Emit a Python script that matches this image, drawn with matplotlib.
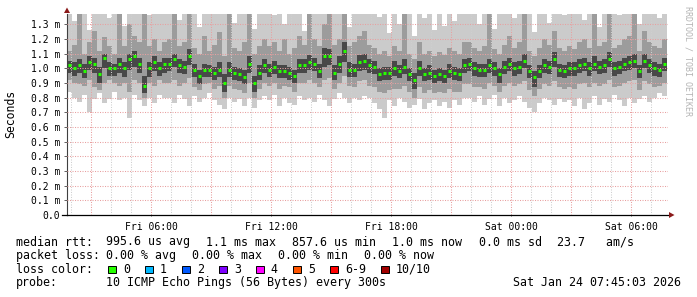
import numpy as np
import matplotlib
matplotlib.use("Agg")
import matplotlib.pyplot as plt
from matplotlib.patches import Rectangle, Polygon

# ---------------- data ----------------
start_hour = 1.8      # Fri 01:48 (hours since Fri 00:00)
step_hours = 0.25     # one sample every 15 min

median = [1.02,1.00,1.02,0.98,1.045,1.03,0.96,1.07,1.00,1.00,1.03,1.00,1.06,1.08,1.03,0.88,1.00,1.04,1.00,1.03,
          1.03,1.065,1.02,1.01,1.08,0.99,0.95,0.985,0.985,0.97,0.99,0.90,0.99,0.97,0.96,0.94,1.03,0.90,0.97,1.02,
          0.99,1.01,0.98,0.98,0.97,0.95,1.02,1.02,1.04,1.03,0.98,1.08,1.08,0.97,1.03,1.12,0.99,0.99,1.04,1.05,
          1.02,1.01,0.96,0.97,0.97,1.00,0.98,1.01,0.96,0.92,1.00,0.96,0.97,0.95,0.96,0.95,0.98,0.97,0.96,1.02,
          1.03,1.00,0.99,0.99,1.02,1.00,0.96,1.01,1.03,1.00,1.01,1.05,0.98,0.94,0.98,1.02,1.01,1.06,0.99,0.98,
          1.00,1.00,1.02,1.03,1.00,1.03,1.01,1.02,1.06,1.00,1.01,1.03,1.04,1.05,0.98,1.05,1.02,1.00,0.99,1.03]

smoke_max = [1.40,1.32,1.40,1.40,1.26,1.40,1.40,1.40,1.34,1.40,1.40,1.29,1.40,1.40,1.40,1.40,1.36,1.40,1.40,1.40,
             1.40,1.40,1.33,1.40,1.40,1.40,1.28,1.40,1.40,1.37,1.40,1.40,1.40,1.31,1.40,1.40,1.40,1.27,1.40,1.40,
             1.40,1.36,1.40,1.30,1.40,1.40,1.40,1.25,1.40,1.40,1.40,1.40,1.33,1.40,1.40,1.40,1.28,1.40,1.40,1.40,
             1.40,1.40,1.35,1.40,1.24,1.40,1.30,1.40,1.40,1.22,1.40,1.34,1.40,1.26,1.40,1.29,1.40,1.32,1.40,1.40,
             1.40,1.40,1.30,1.40,1.40,1.27,1.40,1.40,1.40,1.34,1.40,1.40,1.40,1.25,1.40,1.40,1.31,1.40,1.40,1.36,
             1.40,1.40,1.40,1.33,1.40,1.40,1.28,1.40,1.40,1.40,1.36,1.40,1.40,1.40,1.30,1.40,1.40,1.40,1.34,1.40]
smoke_min = [0.84,0.80,0.77,0.82,0.70,0.79,0.83,0.76,0.79,0.84,0.78,0.80,0.66,0.82,0.78,0.74,0.80,0.76,0.82,0.80,
             0.80,0.76,0.82,0.79,0.74,0.81,0.77,0.80,0.83,0.78,0.75,0.72,0.80,0.77,0.79,0.74,0.80,0.73,0.78,0.81,
             0.78,0.82,0.74,0.80,0.76,0.75,0.81,0.78,0.80,0.77,0.82,0.78,0.74,0.79,0.83,0.80,0.76,0.80,0.78,0.81,
             0.80,0.76,0.72,0.66,0.78,0.74,0.80,0.77,0.73,0.75,0.79,0.72,0.76,0.78,0.74,0.77,0.73,0.78,0.75,0.80,
             0.80,0.77,0.81,0.75,0.79,0.82,0.74,0.80,0.76,0.78,0.81,0.77,0.73,0.70,0.76,0.80,0.78,0.75,0.79,0.77,
             0.78,0.74,0.80,0.72,0.76,0.81,0.75,0.79,0.77,0.82,0.78,0.74,0.80,0.76,0.79,0.81,0.77,0.80,0.83,0.81]
smoke_hi2 = [1.12,1.16,1.40,1.10,1.18,1.25,1.12,1.21,1.15,1.10,1.40,1.15,1.30,1.22,1.18,1.40,1.15,1.20,1.12,1.18,
             1.20,1.40,1.15,1.18,1.40,1.14,1.10,1.22,1.12,1.16,1.25,1.08,1.40,1.14,1.12,1.18,1.40,1.10,1.15,1.20,
             1.15,1.18,1.12,1.20,1.10,1.14,1.22,1.16,1.40,1.20,1.15,1.30,1.40,1.16,1.20,1.40,1.15,1.18,1.22,1.25,
             1.16,1.14,1.10,1.12,1.08,1.15,1.12,1.40,1.10,1.06,1.18,1.10,1.12,1.08,1.11,1.09,1.14,1.12,1.10,1.18,
             1.18,1.14,1.12,1.15,1.40,1.13,1.10,1.16,1.22,1.14,1.18,1.40,1.12,1.08,1.14,1.20,1.16,1.25,1.14,1.12,
             1.15,1.13,1.18,1.20,1.14,1.40,1.15,1.18,1.40,1.14,1.16,1.20,1.22,1.40,1.12,1.25,1.18,1.15,1.14,1.20]
smoke_lo2 = [0.92,0.90,0.89,0.88,0.92,0.87,0.85,0.90,0.92,0.90,0.88,0.90,0.84,0.92,0.90,0.80,0.90,0.88,0.92,0.90,
             0.90,0.92,0.88,0.90,0.93,0.87,0.85,0.89,0.90,0.86,0.88,0.80,0.88,0.86,0.85,0.83,0.90,0.80,0.86,0.90,
             0.88,0.90,0.86,0.88,0.87,0.84,0.90,0.90,0.92,0.90,0.87,0.92,0.93,0.86,0.90,0.95,0.88,0.87,0.91,0.92,
             0.88,0.87,0.84,0.83,0.85,0.86,0.86,0.88,0.84,0.80,0.87,0.83,0.85,0.83,0.84,0.83,0.86,0.84,0.84,0.89,
             0.89,0.87,0.87,0.86,0.90,0.88,0.84,0.88,0.90,0.88,0.89,0.91,0.85,0.81,0.86,0.89,0.88,0.91,0.87,0.86,
             0.87,0.86,0.89,0.90,0.87,0.90,0.88,0.89,0.92,0.87,0.88,0.90,0.91,0.92,0.85,0.91,0.89,0.87,0.88,0.90]
smoke_hi3 = [1.05,1.04,1.06,1.03,1.08,1.07,1.01,1.10,1.04,1.03,1.07,1.04,1.10,1.12,1.07,0.95,1.04,1.08,1.04,1.07,
             1.07,1.10,1.06,1.05,1.13,1.03,0.99,1.03,1.02,1.01,1.04,0.96,1.04,1.01,1.00,0.99,1.08,0.95,1.02,1.06,
             1.03,1.05,1.02,1.02,1.01,0.99,1.06,1.06,1.09,1.07,1.03,1.14,1.13,1.02,1.08,1.18,1.04,1.03,1.09,1.10,
             1.06,1.05,1.00,1.01,1.01,1.05,1.02,1.06,1.00,0.97,1.05,1.00,1.02,0.99,1.00,0.99,1.03,1.01,1.00,1.06,
             1.07,1.04,1.03,1.03,1.06,1.04,1.00,1.05,1.07,1.04,1.05,1.10,1.02,0.98,1.02,1.06,1.05,1.11,1.03,1.02,
             1.04,1.04,1.06,1.07,1.04,1.08,1.05,1.06,1.11,1.04,1.05,1.07,1.08,1.10,1.02,1.10,1.06,1.04,1.03,1.07]
smoke_lo3 = [0.97,0.95,0.97,0.93,0.99,0.97,0.90,1.00,0.95,0.95,0.97,0.94,0.99,1.01,0.97,0.83,0.94,0.98,0.95,0.97,
             0.98,1.01,0.97,0.96,1.02,0.94,0.89,0.94,0.94,0.92,0.94,0.84,0.94,0.92,0.91,0.89,0.97,0.84,0.92,0.97,
             0.94,0.96,0.93,0.93,0.92,0.90,0.97,0.97,0.99,0.98,0.93,1.01,1.02,0.92,0.97,1.04,0.94,0.94,0.98,0.99,
             0.97,0.96,0.91,0.92,0.92,0.95,0.93,0.96,0.91,0.86,0.95,0.91,0.92,0.90,0.91,0.90,0.93,0.92,0.91,0.97,
             0.98,0.95,0.94,0.94,0.97,0.95,0.90,0.96,0.98,0.95,0.96,1.00,0.93,0.87,0.93,0.97,0.96,1.01,0.94,0.93,
             0.95,0.95,0.97,0.98,0.95,0.98,0.96,0.97,1.01,0.95,0.96,0.98,0.99,1.00,0.93,1.00,0.97,0.95,0.94,0.98]

x_tick_hours = [6, 12, 18, 24, 30]
x_tick_labels = ["Fri 06:00", "Fri 12:00", "Fri 18:00", "Sat 00:00", "Sat 06:00"]
y_ticks = [0.0, 0.1, 0.2, 0.3, 0.4, 0.5, 0.6, 0.7, 0.8, 0.9, 1.0, 1.1, 1.2, 1.3]

loss_labels = ["0", "1", "2", "3", "4", "5", "6-9", "10/10"]
loss_colors = ["#26ff00", "#00b8ff", "#0059ff", "#7e00ff", "#ff00ff", "#ff5500", "#ff0000", "#a10000"]

rtt_pieces = ["995.6 us avg", "1.1 ms max", "857.6 us min", "1.0 ms now", "0.0 ms sd", "23.7   am/s"]
loss_pieces = ["0.00 % avg", "0.00 % max", "0.00 % min", "0.00 % now"]
probe_text = "10 ICMP Echo Pings (56 Bytes) every 300s"
stamp_text = "Sat Jan 24 07:45:03 2026"

# ---------------- figure ----------------
W, H = 697, 297
MONO = "DejaVu Sans Mono"
fig = plt.figure(figsize=(W / 100, H / 100), dpi=100)
fig.patch.set_facecolor("white")

L, R, T, B = 67, 668, 14, 215
ax = fig.add_axes([L / W, (H - B) / H, (R - L) / W, (B - T) / H])
ax.set_facecolor("white")

t = start_hour + step_hours * np.arange(len(median))
med = np.array(median)
mx, mn = np.array(smoke_max), np.array(smoke_min)
h2, l2 = np.array(smoke_hi2), np.array(smoke_lo2)
h3, l3 = np.array(smoke_hi3), np.array(smoke_lo3)

ax.bar(t, mx - mn, bottom=mn, width=step_hours, align="edge", color="#cbcbcb", linewidth=0, zorder=1)
ax.bar(t, h2 - l2, bottom=l2, width=step_hours, align="edge", color="#9c9c9c", linewidth=0, zorder=1.1)
ax.bar(t, h3 - l3, bottom=l3, width=step_hours, align="edge", color="#484848", linewidth=0, zorder=1.2)
ax.hlines(med, t + 0.03, t + 0.22, colors=loss_colors[0], linewidth=2.2, zorder=6, capstyle="butt")

x0 = start_hour
x1 = start_hour + (R - L) / 20.0
ax.set_xlim(x0, x1)
ax.set_ylim(0, (B - T) / 146.8)

# grid
dot = (0, (1, 1.4))
for v in y_ticks[1:]:
    ax.axhline(v, color="#e8a0a0", lw=0.75, ls=dot, zorder=3)
for hr in range(2, 32):
    if hr % 3 == 0:
        ax.axvline(hr, color="#e8a0a0", lw=0.75, ls=dot, zorder=3)
    else:
        ax.axvline(hr, color="#cfcfcf", lw=0.75, ls=dot, zorder=3)

ax.set_yticks(y_ticks)
ax.set_yticklabels([("%.1f m" % v) if v > 0 else "0.0" for v in y_ticks], fontfamily=MONO, fontsize=7)
ax.set_xticks(x_tick_hours)
ax.set_xticklabels(x_tick_labels, fontfamily=MONO, fontsize=7)
ax.tick_params(axis="y", length=2, width=0.7, color="#606060", pad=3)
ax.tick_params(axis="x", length=2, width=0.7, color="#606060", pad=4, direction="inout")
for s in ["top", "right"]:
    ax.spines[s].set_visible(False)
ax.spines["left"].set_color("#404040")
ax.spines["left"].set_linewidth(0.8)
ax.spines["bottom"].set_color("#000000")
ax.spines["bottom"].set_linewidth(0.9)


def fx(px):
    return px / W


def fy(py):
    return 1 - py / H


# arrows
arrow_col = "#8b1a1a"
fig.patches.append(Polygon([[fx(64), fy(13)], [fx(70), fy(13)], [fx(67), fy(7.5)]],
                           closed=True, transform=fig.transFigure, color=arrow_col, lw=0))
fig.patches.append(Polygon([[fx(669), fy(212)], [fx(669), fy(218)], [fx(674.5), fy(215)]],
                           closed=True, transform=fig.transFigure, color=arrow_col, lw=0))
fig.add_artist(plt.Line2D([fx(62), fx(67)], [fy(215), fy(215)], color="black", lw=0.9, transform=fig.transFigure))

# axis title and watermark
fig.text(fx(10.5), fy(114), "Seconds", rotation=90, ha="center", va="center", fontfamily=MONO, fontsize=8.3)
fig.text(fx(688), fy(6), "RRDTOOL / TOBI OETIKER", rotation=270, ha="center", va="top",
         fontfamily=MONO, fontsize=6, color="#b4b4b4")

# legend block
FS = 8.37
base = [245.5, 259.0, 272.7, 286.3]
fig.text(fx(15.5), fy(base[0]), "median rtt:", fontfamily=MONO, fontsize=FS, va="baseline")
xs = [106.5, 206.5, 292.5, 392.5, 479, 557]
for x, s in zip(xs, rtt_pieces):
    fig.text(fx(x), fy(base[0]), s, fontfamily=MONO, fontsize=FS, va="baseline")

fig.text(fx(15.5), fy(base[1]), "packet loss:", fontfamily=MONO, fontsize=FS, va="baseline")
xs = [106.5, 192.5, 278.5, 364.5]
for x, s in zip(xs, loss_pieces):
    fig.text(fx(x), fy(base[1]), s, fontfamily=MONO, fontsize=FS, va="baseline")

fig.text(fx(15.5), fy(base[2]), "loss color:", fontfamily=MONO, fontsize=FS, va="baseline")
sq_x = 108.0
for lab, col in zip(loss_labels, loss_colors):
    fig.patches.append(Rectangle((fx(sq_x), fy(273.3)), 7.7 / W, 7.7 / H, transform=fig.transFigure,
                                 facecolor=col, edgecolor="black", lw=0.7))
    fig.text(fx(sq_x + 14.8), fy(base[2]), lab, fontfamily=MONO, fontsize=FS, va="baseline")
    sq_x += 37 + 7 * (len(lab) - 1)

fig.text(fx(15.5), fy(base[3]), "probe:", fontfamily=MONO, fontsize=FS, va="baseline")
fig.text(fx(106.5), fy(base[3]), probe_text, fontfamily=MONO, fontsize=FS, va="baseline")
fig.text(fx(681), fy(base[3]), stamp_text, fontfamily=MONO, fontsize=FS, va="baseline", ha="right")

fig.savefig("out.png", dpi=100, facecolor="white")
